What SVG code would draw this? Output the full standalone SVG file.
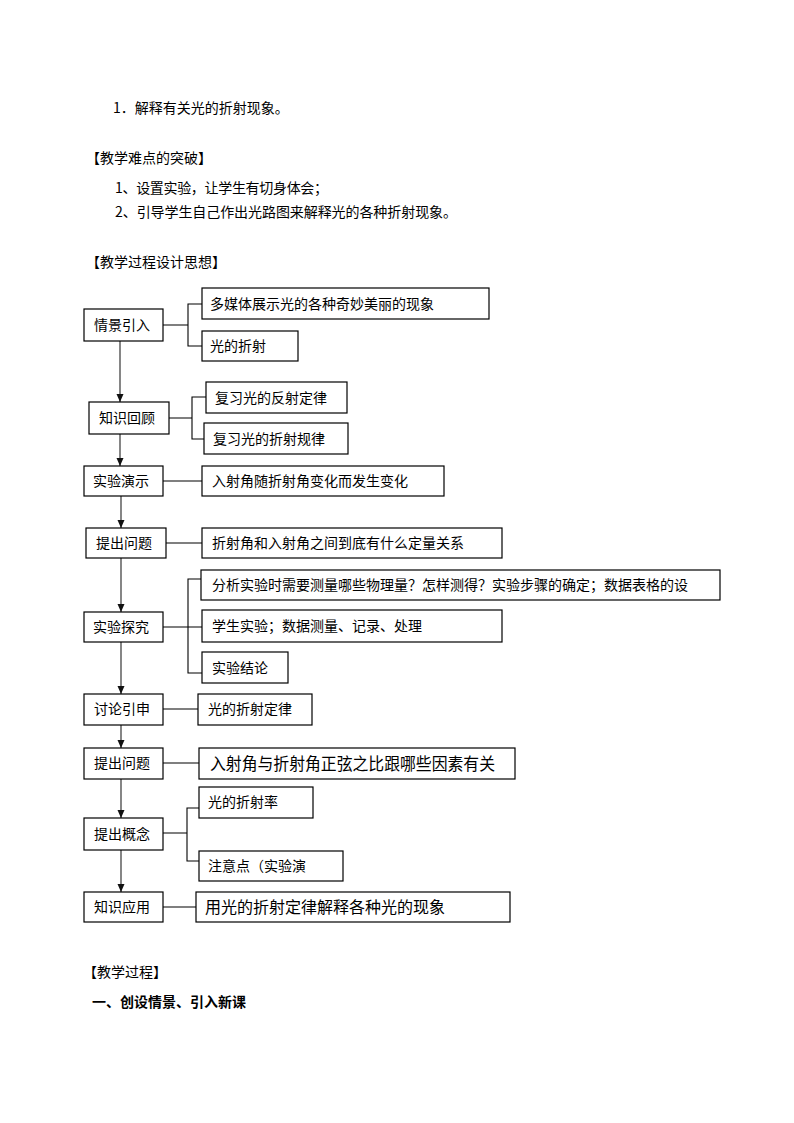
<svg xmlns="http://www.w3.org/2000/svg" width="794" height="1123" viewBox="0 0 794 1123">
  <style>
    text { font-family: "Noto Sans CJK SC", "Liberation Sans", sans-serif; font-size: 14px; fill: #000; }
    .box { fill: #fff; stroke: #000; stroke-width: 1.2; }
    .wire { fill: none; stroke: #000; stroke-width: 1.1; }
    .flow { fill: none; stroke: #222; stroke-width: 1.1; marker-end: url(#arrow); }
    .bold { font-weight: bold; }
  </style>
  <defs>
    <!-- small filled arrowhead, tip at the end of the line -->
    <marker id="arrow" markerUnits="userSpaceOnUse" markerWidth="8" markerHeight="8" refX="8" refY="3.5" orient="auto" viewBox="0 0 8 7">
      <path d="M0,0 L8,3.5 L0,7 Z" fill="#111"/>
    </marker>
  </defs>

  <rect width="794" height="1123" fill="#fff"/>

  <!-- page text -->
  <g id="page-text">
    <text x="113" y="113">1．解释有关光的折射现象。</text>
    <text x="86" y="163">【教学难点的突破】</text>
    <text x="115" y="193" textLength="213" lengthAdjust="spacing">1、设置实验，让学生有切身体会；</text>
    <text x="115" y="217" textLength="342" lengthAdjust="spacing">2、引导学生自己作出光路图来解释光的各种折射现象。</text>
    <text x="86" y="267">【教学过程设计思想】</text>
    <text x="83" y="977">【教学过程】</text>
    <text x="92" y="1007" class="bold">一、创设情景、引入新课</text>
  </g>

  <!-- connectors -->
  <g id="connectors">
    <!-- bracket: 情景引入 -->
    <path class="wire" d="M163,325 H188 M202,304 H188 V346 H202"/>
    <!-- bracket: 知识回顾 -->
    <path class="wire" d="M169,418 H192 M206,397 H192 V439 H204"/>
    <!-- single links -->
    <path class="wire" d="M163,481 H202"/>
    <path class="wire" d="M166,543 H202"/>
    <!-- bracket: 实验探究 -->
    <path class="wire" d="M163,627 H202 M202,579 H188 V673 H202"/>
    <path class="wire" d="M163,709 H198"/>
    <path class="wire" d="M163,763 H199"/>
    <!-- bracket: 提出概念 -->
    <path class="wire" d="M163,833 H187 M199,808 H187 V861 H199"/>
    <path class="wire" d="M163,907 H196"/>

    <!-- main flow arrows -->
    <line class="flow" x1="120" y1="341" x2="120" y2="402"/>
    <line class="flow" x1="120" y1="434" x2="120" y2="466"/>
    <line class="flow" x1="121" y1="496" x2="121" y2="528"/>
    <line class="flow" x1="121" y1="558" x2="121" y2="612"/>
    <line class="flow" x1="121" y1="642" x2="121" y2="694"/>
    <line class="flow" x1="121" y1="725" x2="121" y2="748"/>
    <line class="flow" x1="121" y1="779" x2="121" y2="818"/>
    <line class="flow" x1="121" y1="850" x2="121" y2="892"/>
  </g>

  <!-- flow steps -->
  <g id="step-qingjing">
    <rect class="box" x="84" y="309" width="79" height="32"/>
    <text x="94" y="330">情景引入</text>
  </g>
  <g id="item-duomeiti">
    <rect class="box" x="202" y="288" width="287" height="31"/>
    <text x="210" y="309">多媒体展示光的各种奇妙美丽的现象</text>
  </g>
  <g id="item-guangzheshe">
    <rect class="box" x="202" y="331" width="96" height="30"/>
    <text x="210" y="351">光的折射</text>
  </g>

  <g id="step-huigu">
    <rect class="box" x="89" y="402" width="80" height="32"/>
    <text x="99" y="423">知识回顾</text>
  </g>
  <g id="item-fanshe">
    <rect class="box" x="206" y="382" width="141" height="31"/>
    <text x="215" y="403">复习光的反射定律</text>
  </g>
  <g id="item-zheshe-guilv">
    <rect class="box" x="204" y="423" width="144" height="31"/>
    <text x="213" y="444">复习光的折射规律</text>
  </g>

  <g id="step-yanshi">
    <rect class="box" x="84" y="466" width="79" height="30"/>
    <text x="93" y="486">实验演示</text>
  </g>
  <g id="item-yanshi">
    <rect class="box" x="202" y="466" width="242" height="30"/>
    <text x="212" y="486">入射角随折射角变化而发生变化</text>
  </g>

  <g id="step-wenti1">
    <rect class="box" x="86" y="528" width="80" height="30"/>
    <text x="96" y="548">提出问题</text>
  </g>
  <g id="item-wenti1">
    <rect class="box" x="202" y="528" width="300" height="30"/>
    <text x="212" y="548">折射角和入射角之间到底有什么定量关系</text>
  </g>

  <g id="step-tanjiu">
    <rect class="box" x="84" y="612" width="79" height="30"/>
    <text x="93" y="632">实验探究</text>
  </g>
  <g id="item-fenxi">
    <rect class="box" x="201" y="570" width="519" height="30"/>
    <text x="212" y="590">分析实验时需要测量哪些物理量？怎样测得？实验步骤的确定；数据表格的设</text>
  </g>
  <g id="item-xuesheng">
    <rect class="box" x="202" y="610" width="300" height="32"/>
    <text x="212" y="631">学生实验；数据测量、记录、处理</text>
  </g>
  <g id="item-jielun">
    <rect class="box" x="202" y="652" width="86" height="31"/>
    <text x="212" y="673">实验结论</text>
  </g>

  <g id="step-taolun">
    <rect class="box" x="84" y="694" width="79" height="31"/>
    <text x="94" y="714">讨论引申</text>
  </g>
  <g id="item-dinglv">
    <rect class="box" x="198" y="694" width="114" height="31"/>
    <text x="208" y="714">光的折射定律</text>
  </g>

  <g id="step-wenti2">
    <rect class="box" x="84" y="748" width="79" height="31"/>
    <text x="94" y="768">提出问题</text>
  </g>
  <g id="item-wenti2">
    <rect class="box" x="199" y="748" width="316" height="31"/>
    <text x="210" y="770" style="font-size:16.5px" textLength="285" lengthAdjust="spacingAndGlyphs">入射角与折射角正弦之比跟哪些因素有关</text>
  </g>

  <g id="step-gainian">
    <rect class="box" x="84" y="818" width="79" height="32"/>
    <text x="94" y="839">提出概念</text>
  </g>
  <g id="item-zhesheluv">
    <rect class="box" x="199" y="787" width="114" height="31"/>
    <text x="208" y="807">光的折射率</text>
  </g>
  <g id="item-zhuyi">
    <rect class="box" x="199" y="851" width="144" height="30"/>
    <text x="208" y="871">注意点（实验演</text>
  </g>

  <g id="step-yingyong">
    <rect class="box" x="84" y="892" width="79" height="30"/>
    <text x="94" y="912">知识应用</text>
  </g>
  <g id="item-yingyong">
    <rect class="box" x="196" y="892" width="314" height="30"/>
    <text x="205" y="913" style="font-size:16px" textLength="240" lengthAdjust="spacingAndGlyphs">用光的折射定律解释各种光的现象</text>
  </g>
</svg>
